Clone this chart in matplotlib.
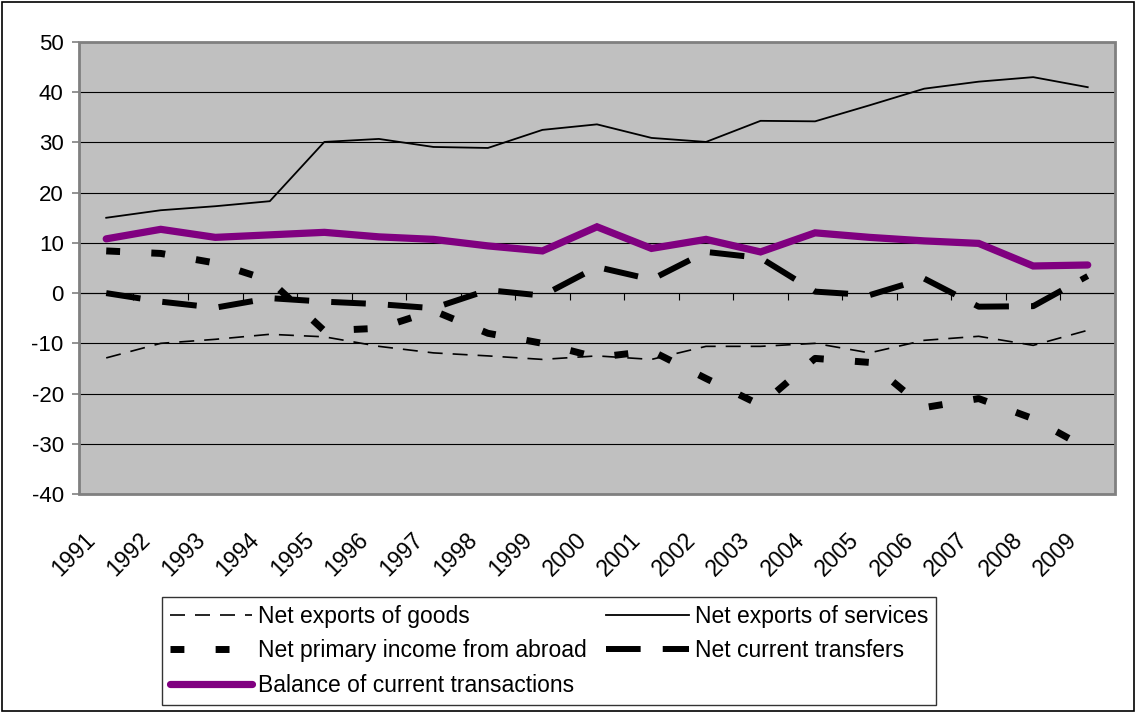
import matplotlib
matplotlib.use("Agg")
import matplotlib.pyplot as plt
import matplotlib.transforms as mtransforms
from matplotlib.patches import Rectangle

plt.rcParams["font.family"] = ["Liberation Sans", "DejaVu Sans"]
plt.rcParams["axes.unicode_minus"] = False

years = [str(y) for y in range(1991, 2010)]

goods = [-12.9, -10.0, -9.2, -8.2, -8.7, -10.6, -11.9, -12.5, -13.2, -12.5,
         -13.2, -10.6, -10.6, -10.0, -11.9, -9.4, -8.6, -10.4, -7.4]
services = [15.0, 16.5, 17.3, 18.3, 30.1, 30.7, 29.1, 28.9, 32.5, 33.6,
            30.9, 30.1, 34.3, 34.2, 37.4, 40.7, 42.1, 43.0, 41.0]
primary = [8.4, 7.9, 6.0, 2.5, -7.5, -7.0, -3.5, -8.0, -10.0, -12.8,
           -11.5, -17.0, -22.3, -13.0, -13.8, -22.8, -21.0, -25.0, -31.0]
transfers = [0.0, -1.7, -2.9, -1.0, -1.7, -2.2, -3.0, 0.6, -0.5, 5.2,
             2.7, 8.2, 7.0, 0.3, -0.4, 2.9, -2.7, -2.6, 3.4]
balance = [10.8, 12.7, 11.1, 11.6, 12.1, 11.2, 10.7, 9.4, 8.4, 13.2,
           8.9, 10.7, 8.2, 12.0, 11.1, 10.4, 9.9, 5.4, 5.6]

x = list(range(len(years)))

fig = plt.figure(figsize=(11.36, 7.14), dpi=100)
ax = fig.add_axes([0.0695, 0.3081, 0.912, 0.6331])
ax.set_facecolor("#C0C0C0")

ax.set_xlim(-0.5, len(years) - 0.5)
ax.set_ylim(-40, 50)
ax.set_yticks(range(-40, 51, 10))
ax.yaxis.grid(True, color="black", linewidth=0.8)
ax.set_axisbelow(True)

l_goods, = ax.plot(x, goods, color="black", linewidth=1.2, dashes=(9, 6),
                   label="Net exports of goods")
l_serv, = ax.plot(x, services, color="black", linewidth=1.3,
                  label="Net exports of services")
l_prim, = ax.plot(x, primary, color="black", linewidth=5, dashes=(2, 4.5),
                  dash_capstyle="butt", label="Net primary income from abroad")
l_trans, = ax.plot(x, transfers, color="black", linewidth=4.3, dashes=(5.8, 3.7),
                   dash_capstyle="butt", label="Net current transfers")
l_bal, = ax.plot(x, balance, color="#800080", linewidth=5.2,
                 solid_capstyle="round", solid_joinstyle="miter",
                 label="Balance of current transactions")

# category axis crosses at zero, tick marks between categories
for s in ["top", "right", "left"]:
    ax.spines[s].set_visible(False)
ax.spines["bottom"].set_position(("data", 0))
ax.spines["bottom"].set_color("black")
ax.spines["bottom"].set_linewidth(0.8)
ax.set_xticks([i - 0.5 for i in range(len(years) + 1)])
ax.tick_params(axis="x", direction="out", length=5, width=0.8,
               labelbottom=False)
ax.tick_params(axis="y", direction="out", length=5, width=1.2,
               color="#808080", labelsize=16, pad=6)

sec = ax.secondary_xaxis("bottom")
sec.set_xticks(x)
sec.set_xticklabels(years, rotation=45, ha="right", va="center",
                    rotation_mode="anchor", fontsize=16.5)
sec.tick_params(length=0, pad=22)
sec.spines["bottom"].set_visible(False)
shift = mtransforms.ScaledTranslation(-14 / 100, -12 / 100, fig.dpi_scale_trans)
for lab in sec.get_xticklabels():
    lab.set_transform(lab.get_transform() + shift)

ax.add_patch(Rectangle((0, 0), 1, 1, transform=ax.transAxes, fill=False,
                       edgecolor="#808080", linewidth=2, clip_on=False,
                       zorder=5))

leg = fig.legend(handles=[l_goods, l_prim, l_bal, l_serv, l_trans],
                 ncol=2, loc="upper left",
                 bbox_to_anchor=(162 / 1136, 1 - 597 / 714),
                 borderaxespad=0, fontsize=16.5, frameon=True, fancybox=False,
                 handlelength=3.6, handletextpad=0.26, columnspacing=0.85,
                 labelspacing=0.52, borderpad=0.33)
leg.get_frame().set_edgecolor("black")
leg.get_frame().set_linewidth(1.0)

fig.patches.append(Rectangle((0.002, 0.004), 0.996, 0.993,
                             transform=fig.transFigure, fill=False,
                             edgecolor="black", linewidth=1.2))

fig.savefig("out.png", dpi=100)
